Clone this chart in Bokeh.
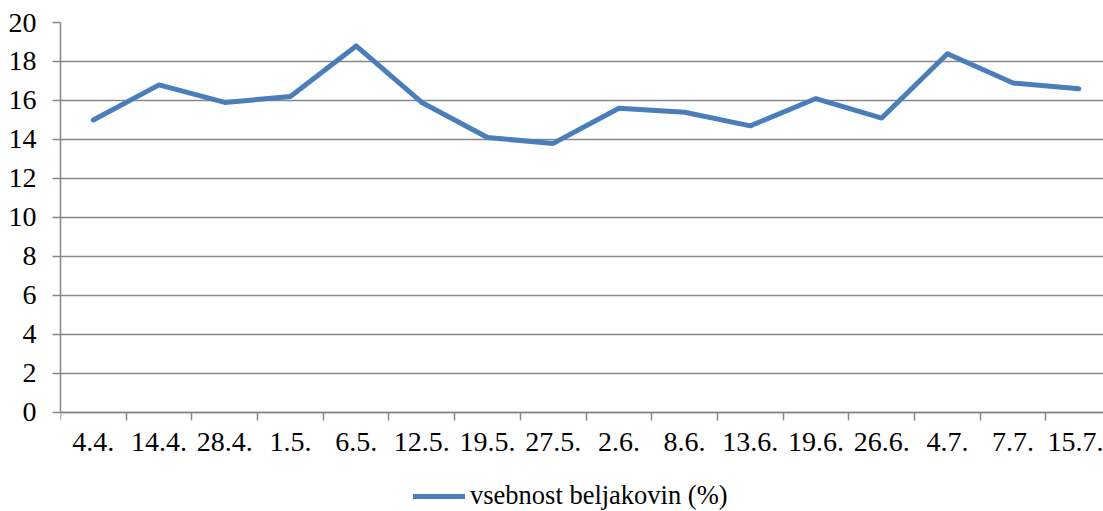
from bokeh.plotting import figure
from bokeh.models import Range1d, FixedTicker, Legend, LegendItem
from bokeh.embed import file_html
from bokeh.resources import INLINE

categories = ["4.4.", "14.4.", "28.4.", "1.5.", "6.5.", "12.5.", "19.5.", "27.5.",
              "2.6.", "8.6.", "13.6.", "19.6.", "26.6.", "4.7.", "7.7.", "15.7."]
protein = [15.0, 16.8, 15.9, 16.2, 18.8, 15.9, 14.1, 13.8,
           15.6, 15.4, 14.7, 16.1, 15.1, 18.4, 16.9, 16.6]
y_ticks = [0, 2, 4, 6, 8, 10, 12, 14, 16, 18, 20]
series_name = "vsebnost beljakovin (%)"

FONT = "Liberation Serif"
FS = "28px"
GRID = "#878787"

n = len(categories)
xs = [i + 0.5 for i in range(n)]

# frame spans the whole height below the top border; the x axis sits at y=0
p = figure(width=1103, height=511, output_backend="svg", toolbar_location=None,
           x_range=Range1d(0, 15.876), y_range=Range1d(-5.077, 20),
           min_border_left=60, min_border_right=0, min_border_top=22,
           min_border_bottom=0)
p.outline_line_color = None
p.background_fill_color = "white"
p.border_fill_color = "white"

r = p.line(xs, protein, line_color="#4A7EBB", line_width=5,
           line_join="round", line_cap="round")

# y axis
p.yaxis.ticker = FixedTicker(ticks=y_ticks)
p.yaxis.bounds = (0, 20)
p.yaxis.axis_line_color = GRID
p.yaxis.axis_line_width = 1.5
p.yaxis.major_tick_line_color = GRID
p.yaxis.major_tick_line_width = 1.5
p.yaxis.major_tick_out = 8
p.yaxis.major_tick_in = 0
p.yaxis.minor_tick_line_color = None
p.yaxis.major_label_text_font = FONT
p.yaxis.major_label_text_font_size = FS
p.yaxis.major_label_text_color = "black"
p.yaxis.major_label_standoff = 16

# x axis: labels at category centers, ticks at boundaries, fixed at y=0
p.xaxis.fixed_location = 0
p.xaxis.ticker = FixedTicker(ticks=xs, minor_ticks=list(range(n + 1)))
p.xaxis.major_label_overrides = {x: c for x, c in zip(xs, categories)}
p.xaxis.axis_line_color = GRID
p.xaxis.axis_line_width = 1.5
p.xaxis.major_tick_line_color = None
p.xaxis.minor_tick_line_color = GRID
p.xaxis.minor_tick_line_width = 1.5
p.xaxis.minor_tick_out = 8
p.xaxis.minor_tick_in = 0
p.xaxis.major_label_text_font = FONT
p.xaxis.major_label_text_font_size = FS
p.xaxis.major_label_text_color = "black"
p.xaxis.major_label_standoff = 13

p.xgrid.grid_line_color = None
p.ygrid.ticker = FixedTicker(ticks=y_ticks)
p.ygrid.grid_line_color = GRID
p.ygrid.grid_line_width = 1.5

legend = Legend(items=[LegendItem(label=series_name, renderers=[r])],
                location=(353, 0), orientation="horizontal",
                padding=0, margin=0, border_line_color=None,
                background_fill_alpha=0, glyph_width=52, glyph_height=20,
                label_standoff=5, label_text_font=FONT,
                label_text_font_size="26.5px", label_text_color="black")
p.add_layout(legend, "center")

open("out.html", "w").write(file_html(p, INLINE))
